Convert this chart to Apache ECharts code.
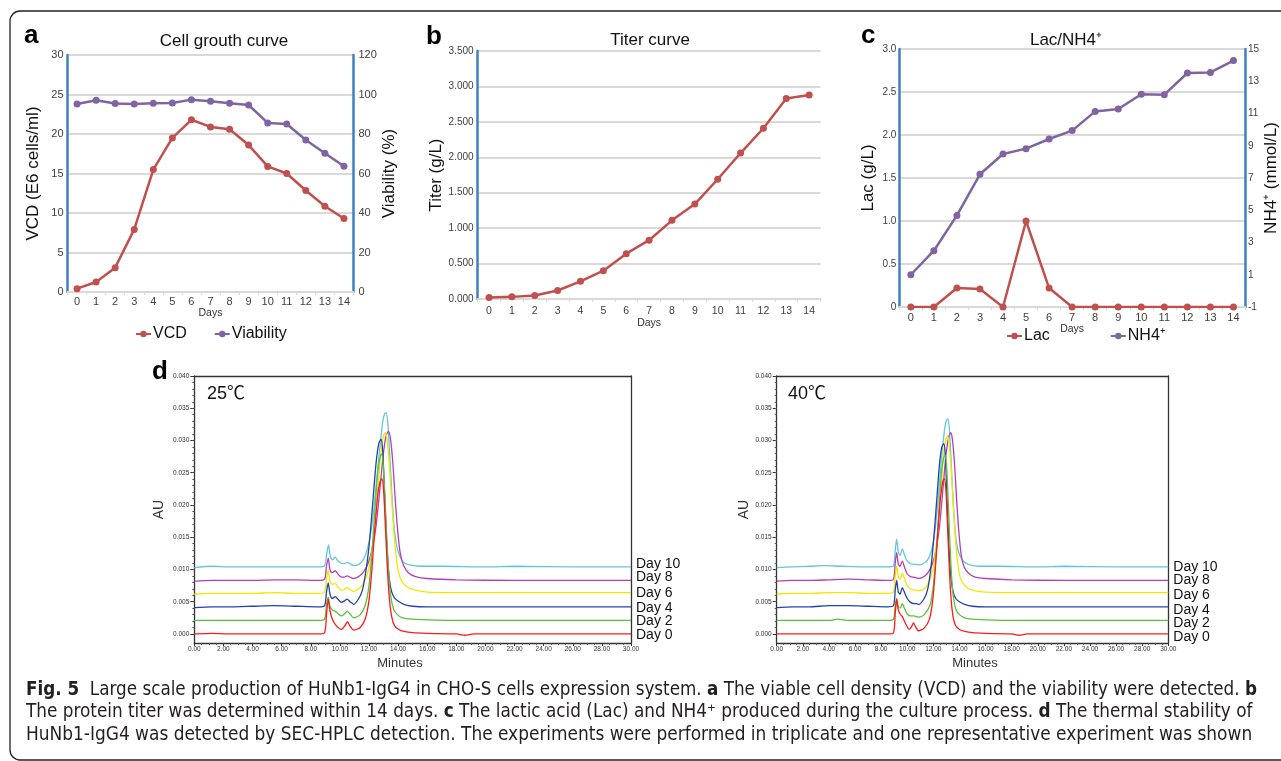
<!DOCTYPE html>
<html><head><meta charset="utf-8">
<script src="https://cdn.jsdelivr.net/npm/echarts@6/dist/echarts.min.js"></script>
<style>html,body{margin:0;padding:0;background:#fff}#c{width:1281px;height:761px}</style>
</head><body><div id="c"></div>
<script>
// ---------- data ----------
const days = ['0','1','2','3','4','5','6','7','8','9','10','11','12','13','14'];
const vcd = [0.42, 1.26, 3.08, 7.92, 15.5, 19.5, 21.8, 20.9, 20.6, 18.6, 15.9, 15.0, 12.85, 10.85, 9.3];
const viability = [95.2, 97.1, 95.4, 95.2, 95.6, 95.7, 97.4, 96.6, 95.6, 94.7, 85.6, 85.1, 77.0, 70.3, 63.7];
const titer = [0.02, 0.03, 0.05, 0.12, 0.25, 0.40, 0.64, 0.83, 1.11, 1.34, 1.69, 2.06, 2.41, 2.83, 2.88];
const lac = [0, 0, 0.22, 0.21, 0, 1.0, 0.22, 0, 0, 0, 0, 0, 0, 0, 0];
const nh4 = [1.0, 2.49, 4.68, 7.23, 8.49, 8.82, 9.42, 9.94, 11.13, 11.28, 12.19, 12.17, 13.51, 13.55, 14.28];

const auMajorTicks = [0, 0.005, 0.010, 0.015, 0.020, 0.025, 0.030, 0.035, 0.040];
const dayLabels = ['Day 10', 'Day 8', 'Day 6', 'Day 4', 'Day 2', 'Day 0'];

// SEC-HPLC traces, 25 °C  [minutes, AU]
const c25_day0 = [[0,0],[1.2,0.0001],[2.5,0],[4,0],[5.5,0],[7,0],[8.5,0],[8.95,0.0002],[9.08,0.0030],[9.2,0.0054],[9.32,0.0036],[9.5,0.0022],[9.75,0.0013],[10.1,0.0007],[10.35,0.0013],[10.52,0.0019],[10.7,0.0012],[10.95,0.0006],[11.4,0.0010],[11.75,0.0024],[12.0,0.0052],[12.2,0.0100],[12.4,0.0162],[12.6,0.0215],[12.76,0.0236],[12.88,0.0241],[13.0,0.0224],[13.12,0.0170],[13.25,0.0108],[13.38,0.0060],[13.55,0.0028],[13.75,0.0013],[14.05,0.0007],[14.4,0.0004],[15,0.0002],[16,0.0001],[18,0],[18.6,-0.0002],[19.2,0],[22,0],[26,0],[30,0]];
const c25_day2 = [[0,0.0021],[1.2,0.0021],[2.5,0.0021],[4,0.0021],[5.5,0.0021],[7,0.0021],[8.5,0.0021],[8.95,0.0023],[9.08,0.0045],[9.2,0.0057],[9.32,0.0043],[9.5,0.0037],[9.7,0.0035],[9.9,0.0031],[10.1,0.0028],[10.3,0.0031],[10.5,0.0035],[10.7,0.0031],[10.95,0.0025],[11.4,0.0030],[11.75,0.0045],[12.0,0.0075],[12.2,0.0125],[12.4,0.0190],[12.6,0.0250],[12.75,0.0274],[12.86,0.0279],[12.98,0.0262],[13.1,0.0210],[13.23,0.0145],[13.37,0.0088],[13.52,0.0055],[13.7,0.0038],[13.95,0.0030],[14.3,0.0025],[15,0.0023],[16,0.0022],[18,0.0021],[22,0.0021],[26,0.0021],[30,0.0021]];
const c25_day4 = [[0,0.0041],[1.2,0.0042],[2.5,0.0042],[4,0.0043],[5.5,0.0044],[7,0.0043],[8.5,0.0042],[8.95,0.0044],[9.08,0.0065],[9.2,0.0079],[9.32,0.0062],[9.47,0.0055],[9.68,0.0058],[9.9,0.0053],[10.1,0.0049],[10.3,0.0051],[10.5,0.0054],[10.7,0.0050],[10.95,0.0046],[11.3,0.0055],[11.55,0.0068],[11.75,0.0092],[11.95,0.0125],[12.12,0.0165],[12.3,0.0215],[12.5,0.0268],[12.68,0.0296],[12.82,0.0302],[12.94,0.0285],[13.06,0.0225],[13.17,0.0165],[13.28,0.0118],[13.4,0.0085],[13.55,0.0066],[13.75,0.0056],[14.0,0.0051],[14.4,0.0046],[15,0.0043],[16,0.0042],[18,0.0042],[22,0.0042],[26,0.0042],[30,0.0042]];
const c25_day6 = [[0,0.0062],[1.2,0.0063],[2.5,0.0063],[4,0.0063],[5.5,0.0064],[7,0.0063],[8.5,0.0063],[8.95,0.0065],[9.08,0.0086],[9.2,0.0098],[9.32,0.0082],[9.47,0.0077],[9.68,0.0078],[9.9,0.0072],[10.1,0.0068],[10.3,0.0069],[10.5,0.0072],[10.7,0.0069],[10.95,0.0066],[11.3,0.0070],[11.65,0.0080],[11.95,0.0098],[12.2,0.0130],[12.42,0.0175],[12.62,0.0230],[12.82,0.0282],[12.98,0.0306],[13.11,0.0312],[13.24,0.0302],[13.4,0.0262],[13.56,0.0208],[13.72,0.0155],[13.88,0.0118],[14.05,0.0094],[14.3,0.0080],[14.7,0.0072],[15.2,0.0068],[16,0.0065],[18,0.0064],[22,0.0064],[26,0.0064],[30,0.0064]];
const c25_day8 = [[0,0.0082],[1.2,0.0083],[2.5,0.0083],[4,0.0083],[5.5,0.0084],[7,0.0084],[8.5,0.0083],[8.95,0.0085],[9.08,0.0105],[9.2,0.0117],[9.32,0.0100],[9.47,0.0095],[9.68,0.0098],[9.9,0.0092],[10.1,0.0088],[10.3,0.0088],[10.5,0.0090],[10.7,0.0088],[10.95,0.0086],[11.3,0.0089],[11.65,0.0097],[11.95,0.0110],[12.25,0.0135],[12.5,0.0170],[12.75,0.0225],[12.98,0.0278],[13.18,0.0308],[13.34,0.0314],[13.48,0.0302],[13.64,0.0265],[13.8,0.0210],[13.98,0.0158],[14.15,0.0125],[14.38,0.0106],[14.7,0.0095],[15.2,0.0089],[16,0.0086],[18,0.0084],[22,0.0083],[26,0.0083],[30,0.0083]];
const c25_day10 = [[0,0.0103],[1.2,0.0105],[2.5,0.0104],[4,0.0104],[5.5,0.0104],[7,0.0104],[8.5,0.0104],[8.95,0.0106],[9.1,0.0125],[9.22,0.0138],[9.35,0.0120],[9.5,0.0115],[9.67,0.0119],[9.85,0.0114],[10.05,0.0110],[10.3,0.0109],[10.52,0.0111],[10.7,0.0109],[10.94,0.0106],[11.3,0.0108],[11.6,0.0115],[11.8,0.0125],[12.0,0.0142],[12.18,0.0165],[12.35,0.0198],[12.55,0.0245],[12.75,0.0290],[12.95,0.0330],[13.07,0.0341],[13.18,0.0343],[13.3,0.0325],[13.45,0.0268],[13.58,0.0215],[13.7,0.0172],[13.82,0.0148],[13.95,0.0132],[14.15,0.0119],[14.4,0.0111],[14.8,0.0107],[15.5,0.0105],[17,0.0105],[20,0.0104],[22,0.0105],[26,0.0104],[30,0.0104]];

// SEC-HPLC traces, 40 °C
const c40_day0 = [[0,0],[1.2,0],[2.5,0],[4,0],[5.5,0],[7,0],[8.5,0],[8.95,0.0002],[9.08,0.0032],[9.19,0.0054],[9.3,0.0038],[9.45,0.0031],[9.62,0.0027],[9.85,0.0017],[10.15,0.0007],[10.32,0.0011],[10.47,0.0017],[10.62,0.0012],[10.85,0.0005],[11.3,0.0009],[11.7,0.0023],[11.95,0.0052],[12.15,0.0100],[12.35,0.0160],[12.55,0.0212],[12.72,0.0236],[12.84,0.0241],[12.96,0.0224],[13.08,0.0170],[13.21,0.0108],[13.34,0.0060],[13.5,0.0028],[13.7,0.0013],[14.0,0.0007],[14.4,0.0004],[15,0.0002],[16,0.0001],[18,0],[18.6,-0.0002],[19.2,0],[22,0],[26,0],[30,0]];
const c40_day2 = [[0,0.0021],[1.2,0.0021],[2.5,0.0021],[4,0.0021],[4.67,0.0023],[5.5,0.0021],[7,0.0021],[8.5,0.0021],[8.95,0.0023],[9.08,0.0044],[9.19,0.0055],[9.32,0.0042],[9.45,0.0040],[9.62,0.0047],[9.8,0.0039],[10.0,0.0031],[10.25,0.0028],[10.5,0.0028],[10.7,0.0027],[10.9,0.0026],[11.3,0.0030],[11.75,0.0045],[12.0,0.0075],[12.22,0.0125],[12.42,0.0190],[12.62,0.0250],[12.78,0.0273],[12.89,0.0278],[13.01,0.0262],[13.13,0.0210],[13.26,0.0145],[13.4,0.0088],[13.55,0.0055],[13.73,0.0038],[14.0,0.0030],[14.4,0.0025],[15,0.0023],[16,0.0022],[18,0.0021],[22,0.0021],[26,0.0021],[30,0.0021]];
const c40_day4 = [[0,0.0041],[1.2,0.0042],[2.5,0.0042],[4,0.0044],[5.5,0.0044],[7,0.0043],[8.5,0.0042],[8.95,0.0044],[9.08,0.0068],[9.19,0.0083],[9.32,0.0065],[9.45,0.0062],[9.62,0.0072],[9.8,0.0064],[10.0,0.0055],[10.25,0.0049],[10.5,0.0047],[10.7,0.0047],[10.9,0.0046],[11.3,0.0055],[11.55,0.0068],[11.75,0.0092],[11.93,0.0125],[12.1,0.0165],[12.28,0.0213],[12.47,0.0263],[12.65,0.0290],[12.79,0.0295],[12.91,0.0280],[13.03,0.0222],[13.14,0.0163],[13.25,0.0116],[13.37,0.0084],[13.52,0.0065],[13.72,0.0055],[14.0,0.0050],[14.4,0.0046],[15,0.0043],[16,0.0042],[18,0.0042],[22,0.0042],[26,0.0042],[30,0.0042]];
const c40_day6 = [[0,0.0062],[1.2,0.0063],[2.5,0.0063],[4,0.0064],[5.5,0.0064],[7,0.0063],[8.5,0.0063],[8.95,0.0065],[9.08,0.0090],[9.19,0.0105],[9.32,0.0088],[9.45,0.0085],[9.62,0.0094],[9.8,0.0085],[10.0,0.0075],[10.25,0.0070],[10.5,0.0068],[10.7,0.0068],[10.9,0.0067],[11.3,0.0070],[11.65,0.0080],[11.95,0.0098],[12.18,0.0130],[12.4,0.0175],[12.6,0.0228],[12.8,0.0280],[12.95,0.0302],[13.07,0.0307],[13.2,0.0297],[13.36,0.0258],[13.52,0.0204],[13.68,0.0152],[13.84,0.0115],[14.0,0.0092],[14.25,0.0079],[14.65,0.0071],[15.2,0.0067],[16,0.0065],[18,0.0064],[22,0.0064],[26,0.0064],[30,0.0064]];
const c40_day8 = [[0,0.0082],[1.2,0.0083],[2.5,0.0083],[4,0.0084],[5.5,0.0085],[7,0.0084],[8.5,0.0083],[8.95,0.0085],[9.08,0.0110],[9.19,0.0126],[9.32,0.0108],[9.45,0.0105],[9.62,0.0113],[9.8,0.0103],[10.0,0.0093],[10.25,0.0089],[10.5,0.0088],[10.7,0.0087],[10.9,0.0086],[11.3,0.0089],[11.65,0.0097],[11.95,0.0110],[12.25,0.0135],[12.5,0.0172],[12.75,0.0228],[12.98,0.0280],[13.18,0.0306],[13.33,0.0312],[13.47,0.0300],[13.63,0.0262],[13.79,0.0206],[13.97,0.0155],[14.14,0.0122],[14.36,0.0104],[14.7,0.0094],[15.2,0.0088],[16,0.0086],[18,0.0084],[22,0.0083],[26,0.0083],[30,0.0083]];
const c40_day10 = [[0,0.0103],[1.2,0.0104],[2.5,0.0105],[3.6,0.0106],[5,0.0105],[7,0.0104],[8.5,0.0104],[8.95,0.0106],[9.08,0.0130],[9.19,0.0147],[9.32,0.0126],[9.45,0.0122],[9.62,0.0132],[9.8,0.0122],[10.0,0.0113],[10.25,0.0109],[10.5,0.0108],[10.7,0.0108],[10.9,0.0107],[11.3,0.0110],[11.6,0.0116],[11.8,0.0126],[12.0,0.0143],[12.17,0.0168],[12.35,0.0205],[12.55,0.0255],[12.75,0.0298],[12.95,0.0328],[13.1,0.0334],[13.22,0.0320],[13.37,0.0265],[13.5,0.0212],[13.62,0.0172],[13.75,0.0145],[13.9,0.0129],[14.15,0.0117],[14.4,0.0111],[14.8,0.0107],[15.5,0.0105],[17,0.0105],[20,0.0104],[22,0.0105],[26,0.0104],[30,0.0104]];

// ---------- style ----------
const FONT = '"Liberation Sans", Arial, "Noto Sans CJK SC", sans-serif';
const CAPFONT = '"DejaVu Sans Condensed", "Noto Sans", sans-serif';
const BLUE = '#3f7fc4', GRIDC = '#d9d9d9', RED = '#c0504d', PURPLE = '#8064a2', TXT = '#404040';
const traceColors = ['#62c6dc', '#b43fb4', '#f2e600', '#2244aa', '#5cc03a', '#ff1a1a'];
const labelOffsets25 = [-3, -3, 0, 1, 1, 1];
const labelOffsets40 = [0, 0, 2, 3, 3, 3];
const AUMIN = -0.0014;

const minorTicks = [];
for (let i = 1; i < 40; i++) minorTicks.push(i / 1000);

function catX(gi, margin, fs, nameGap) {
  return {
    type: 'category', gridIndex: gi, data: days, boundaryGap: true,
    axisLine: { show: true, lineStyle: { color: GRIDC, width: 2 } },
    axisTick: { show: true, length: 3, lineStyle: { color: GRIDC } },
    axisLabel: { interval: 0, fontSize: fs, color: TXT, margin: margin, fontFamily: FONT },
    name: 'Days', nameLocation: 'middle', nameGap: nameGap,
    nameTextStyle: { fontSize: 10.5, color: '#333', fontFamily: FONT }
  };
}
function valY(gi, pos, min, max, interval, fmt, fs, margin, name, nameGap, split) {
  return {
    type: 'value', gridIndex: gi, position: pos, min: min, max: max, interval: interval,
    axisLine: { show: true, lineStyle: { color: BLUE, width: 2.5 } },
    axisTick: { show: false },
    axisLabel: { formatter: fmt, fontSize: fs, color: TXT, margin: margin, fontFamily: FONT },
    splitLine: { show: split, lineStyle: { color: GRIDC, width: 2 } },
    name: name, nameLocation: 'middle', nameRotate: 90, nameGap: nameGap,
    nameTextStyle: { fontSize: 17, color: '#111', fontFamily: FONT }
  };
}
function chromX(gi) {
  return {
    type: 'value', gridIndex: gi, min: 0, max: 30, interval: 2,
    axisLine: { show: true, onZero: false, lineStyle: { color: '#333', width: 1.3 } },
    axisTick: { show: true, length: 3, lineStyle: { color: '#333' } },
    minorTick: { show: true, splitNumber: 4, length: 2, lineStyle: { color: '#555' } },
    axisLabel: { formatter: v => v.toFixed(2), fontSize: 6.5, color: '#333', margin: 3, fontFamily: FONT },
    splitLine: { show: false }
  };
}
function chromTopX(gi) {
  return {
    type: 'value', gridIndex: gi, min: 0, max: 30, position: 'top',
    axisLine: { show: true, onZero: false, lineStyle: { color: '#333', width: 1.3 } },
    axisTick: { show: false }, axisLabel: { show: false }, splitLine: { show: false }
  };
}
function chromY(gi, nameGap) {
  return {
    type: 'value', gridIndex: gi, min: AUMIN, max: 0.04, position: 'left',
    axisLine: { show: true, onZero: false, lineStyle: { color: '#333', width: 1.3 } },
    axisTick: { show: true, length: 4, customValues: auMajorTicks, lineStyle: { color: '#333' } },
    axisLabel: { customValues: auMajorTicks, formatter: v => v.toFixed(3), fontSize: 6.5, color: '#333', margin: 5, fontFamily: FONT },
    splitLine: { show: false },
    name: 'AU', nameLocation: 'middle', nameRotate: 90, nameGap: nameGap,
    nameTextStyle: { fontSize: 14, color: '#333', fontFamily: FONT }
  };
}
function chromMinorY(gi) {
  return {
    type: 'value', gridIndex: gi, min: AUMIN, max: 0.04, position: 'left',
    axisLine: { show: false },
    axisTick: { show: true, length: 2, customValues: minorTicks, lineStyle: { color: '#555' } },
    axisLabel: { show: false }, splitLine: { show: false }
  };
}
function chromRightY(gi) {
  return {
    type: 'value', gridIndex: gi, min: AUMIN, max: 0.04, position: 'right',
    axisLine: { show: true, onZero: false, lineStyle: { color: '#333', width: 1.3 } },
    axisTick: { show: false }, axisLabel: { show: false }, splitLine: { show: false }
  };
}
function lineSeries(name, xi, yi, data, color) {
  return {
    name: name, type: 'line', xAxisIndex: xi, yAxisIndex: yi, data: data,
    symbol: 'circle', symbolSize: 7, color: color,
    lineStyle: { color: color, width: 2.5 }, itemStyle: { color: color }
  };
}
function traceSeries(traces, xi, yi, offsets) {
  return traces.map((d, i) => ({
    name: dayLabels[i], type: 'line', xAxisIndex: xi, yAxisIndex: yi, data: d,
    showSymbol: false, smooth: 0.25, color: traceColors[i],
    lineStyle: { color: traceColors[i], width: 1.3 },
    endLabel: { show: true, formatter: dayLabels[i], color: '#111', fontSize: 14, fontFamily: FONT, distance: 5, offset: [0, offsets[i]] },
    z: 3 + i
  }));
}

// ---------- caption ----------
const capLines = [
  [['b', 'Fig. 5'], ['n', '  Large scale production of HuNb1-IgG4 in CHO-S cells expression system. '], ['b', 'a'], ['n', ' The viable cell density (VCD) and the viability were detected. '], ['b', 'b']],
  [['n', 'The protein titer was determined within 14 days. '], ['b', 'c'], ['n', ' The lactic acid (Lac) and NH4⁺ produced during the culture process. '], ['b', 'd'], ['n', ' The thermal stability of']],
  [['n', 'HuNb1-IgG4 was detected by SEC-HPLC detection. The experiments were performed in triplicate and one representative experiment was shown']]
];
const capTargets = [1232, 1227, 1227];
const mctx = document.createElement('canvas').getContext('2d');
function lineWidth(line, fs) {
  let w = 0;
  line.forEach(([k, t]) => { mctx.font = (k === 'b' ? 'bold ' : '') + fs + 'px ' + CAPFONT; w += mctx.measureText(t).width; });
  return w;
}
const capGraphics = capLines.map((line, i) => {
  const fs = 16 * capTargets[i] / lineWidth(line, 16);
  return {
    type: 'text', x: 26, y: 690 + i * 22.5, silent: true,
    style: {
      text: line.map(([k, t]) => '{' + k + '|' + t + '}').join(''),
      verticalAlign: 'middle',
      rich: {
        b: { fontWeight: 'bold', fontSize: fs, fontFamily: CAPFONT, fill: '#231f20' },
        n: { fontSize: fs, fontFamily: CAPFONT, fill: '#231f20' }
      }
    }
  };
});

function txt(x, y, s, fs, opts) {
  return { type: 'text', x: x, y: y, silent: true,
    style: Object.assign({ text: s, fontSize: fs, fontFamily: FONT, fill: '#111', verticalAlign: 'middle', align: 'left' }, opts || {}) };
}

const option = {
  animation: false,
  backgroundColor: '#fff',
  grid: [
    { left: 67.5, top: 55, width: 286, height: 237 },
    { left: 477.6, top: 51, width: 343, height: 248 },
    { left: 899.3, top: 49, width: 350.7, height: 258 },
    { left: 194.3, top: 376, width: 436.7, height: 267 },
    { left: 776.7, top: 376, width: 391.6, height: 267 }
  ],
  legend: [
    { data: ['VCD', 'Viability'], left: 130, top: 321, itemWidth: 15, itemHeight: 8, itemGap: 27,
      textStyle: { fontSize: 16, color: '#111', fontFamily: FONT, padding: [0, 0, 0, -3] } },
    { data: ['Lac', 'NH4⁺'], left: 1001, top: 323, itemWidth: 15, itemHeight: 8, itemGap: 60,
      textStyle: { fontSize: 16, color: '#111', fontFamily: FONT, padding: [0, 0, 0, -3] } }
  ],
  xAxis: [
    catX(0, 4, 11, 14.5),
    catX(1, 7, 10.5, 16.5),
    catX(2, 5, 11, 12.5),
    chromX(3), chromTopX(3),
    chromX(4), chromTopX(4)
  ],
  yAxis: [
    valY(0, 'left', 0, 30, 5, null, 11, 4, 'VCD (E6 cells/ml)', 25.5, true),
    valY(0, 'right', 0, 120, 20, null, 11, 5, 'Viability (%)', 27.5, false),
    valY(1, 'left', 0, 3.5, 0.5, v => v.toFixed(3), 10, 4, 'Titer (g/L)', 31.5, true),
    valY(2, 'left', 0, 3, 0.5, v => (v === 0 ? '0' : v.toFixed(1)), 10, 3, 'Lac (g/L)', 22.5, true),
    valY(2, 'right', -1, 15, 2, null, 10, 3, 'NH4⁺ (mmol/L)', 11.5, false),
    chromY(3, 28), chromMinorY(3), chromRightY(3),
    chromY(4, 24), chromMinorY(4), chromRightY(4)
  ],
  series: [
    lineSeries('VCD', 0, 0, vcd, RED),
    lineSeries('Viability', 0, 1, viability, PURPLE),
    lineSeries('Titer', 1, 2, titer, RED),
    lineSeries('Lac', 2, 3, lac, RED),
    lineSeries('NH4⁺', 2, 4, nh4, PURPLE)
  ]
  .concat(traceSeries([c25_day10, c25_day8, c25_day6, c25_day4, c25_day2, c25_day0], 3, 5, labelOffsets25))
  .concat(traceSeries([c40_day10, c40_day8, c40_day6, c40_day4, c40_day2, c40_day0], 5, 8, labelOffsets40)),
  graphic: [
    { type: 'rect', silent: true, z: -10, shape: { x: 10, y: 11, width: 1300, height: 749, r: 10 },
      style: { fill: 'none', stroke: '#222', lineWidth: 1.3 } },
    txt(24, 36, 'a', 26, { fontWeight: 'bold', fill: '#000' }),
    txt(426, 37, 'b', 26, { fontWeight: 'bold', fill: '#000' }),
    txt(861, 36, 'c', 26, { fontWeight: 'bold', fill: '#000' }),
    txt(152, 372, 'd', 26, { fontWeight: 'bold', fill: '#000' }),
    txt(224, 41, 'Cell grouth curve', 17, { align: 'center' }),
    txt(650, 40, 'Titer curve', 17, { align: 'center' }),
    txt(1066, 40, 'Lac/NH4⁺', 17, { align: 'center' }),
    txt(207, 394, '25℃', 18),
    txt(788, 394, '40℃', 18),
    txt(400, 663, 'Minutes', 13, { align: 'center', fill: '#333' }),
    txt(975, 663, 'Minutes', 13, { align: 'center', fill: '#333' })
  ].concat(capGraphics)
};

const chart = echarts.init(document.getElementById('c'), null, { renderer: 'canvas' });
chart.setOption(option);
</script>
</body></html>
